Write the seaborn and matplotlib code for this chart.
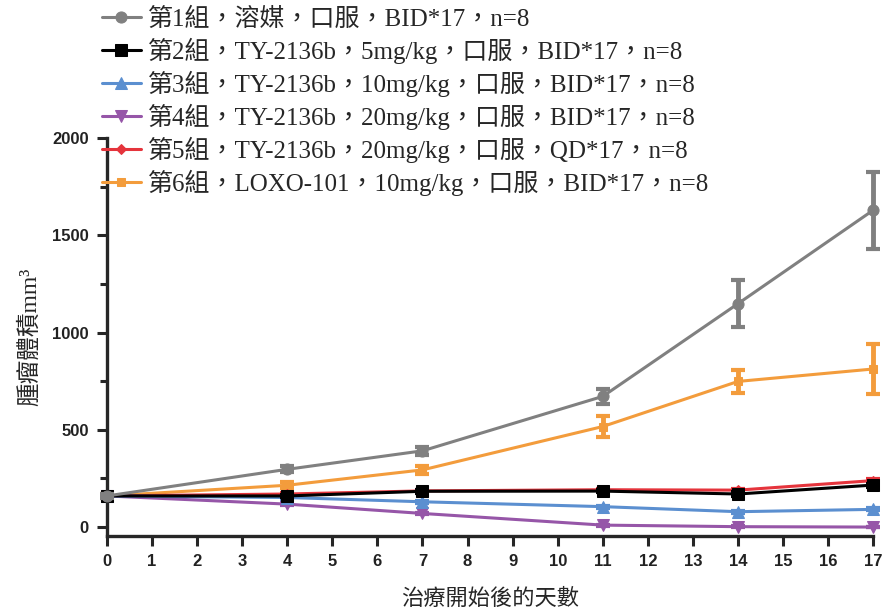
import numpy as np
import pandas as pd
import seaborn as sns
import matplotlib.pyplot as plt
from matplotlib.ticker import MultipleLocator

# Данные: дни и средние объёмы опухоли по группам (± погрешность)
days = [0, 4, 7, 11, 14, 17]

labels = [
    '第1組，溶媒，口服，BID*17，n=8',
    '第2組，TY-2136b，5mg/kg，口服，BID*17，n=8',
    '第3組，TY-2136b，10mg/kg，口服，BID*17，n=8',
    '第4組，TY-2136b，20mg/kg，口服，BID*17，n=8',
    '第5組，TY-2136b，20mg/kg，口服，QD*17，n=8',
    '第6組，LOXO-101，10mg/kg，口服，BID*17，n=8',
]

g1 = [160, 297, 392, 672, 1149, 1630]
g1_err = [8, 15, 20, 40, 122, 198]
g2 = [160, 160, 184, 185, 170, 216]
g2_err = [5, 6, 7, 7, 8, 8]
g3 = [160, 152, 130, 105, 79, 91]
g3_err = [5, 6, 6, 5, 5, 5]
g4 = [160, 118, 70, 10, 2, 0]
g4_err = [5, 5, 4, 2, 1, 1]
g5 = [160, 170, 186, 192, 190, 239]
g5_err = [5, 5, 6, 6, 6, 6]
g6 = [160, 215, 294, 517, 749, 813]
g6_err = [8, 15, 20, 55, 58, 130]

values = [g1, g2, g3, g4, g5, g6]
errors = [g1_err, g2_err, g3_err, g4_err, g5_err, g6_err]
colors = ['#808080', '#000000', '#5b8fd0', '#9656a8', '#e5343c', '#f39c3c']
markers = ['o', 's', '^', 'v', 'D', 's']
msizes = [8, 8, 8, 8, 5, 6]

sns.set_style('ticks')
plt.rcParams['font.family'] = ['Liberation Serif', 'Noto Sans CJK TC']

fig = plt.figure(figsize=(8.83, 6.13), dpi=100)
ax = fig.add_axes([0.121, 0.1256, 0.868, 0.649])

# Рисуем с 6-й группы по 1-ю, чтобы серая линия была сверху
for i in reversed(range(6)):
    df = pd.DataFrame({'day': days, 'vol': values[i]})
    sns.lineplot(data=df, x='day', y='vol', color=colors[i], marker=markers[i],
                 markersize=msizes[i], markeredgecolor=colors[i], linewidth=2.2,
                 ax=ax, label=labels[i], clip_on=False, zorder=3 + (6 - i))
    ax.errorbar(days, values[i], yerr=errors[i], fmt='none', ecolor=colors[i],
                elinewidth=3.5, capsize=5, capthick=3, clip_on=False, zorder=3 + (6 - i))

h, l = ax.get_legend_handles_labels()
order = [l.index(lab) for lab in labels]
ax.legend([h[k] for k in order], [l[k] for k in order], loc='upper left',
          bbox_to_anchor=(0.114, 0.989), bbox_transform=fig.transFigure,
          frameon=False, fontsize=18, handlelength=1.55, handletextpad=0.3,
          labelspacing=0.27, borderpad=0.05, borderaxespad=0)

ax.set_xlim(0, 17)
ax.set_ylim(-46, 2000)
ax.set_xticks(range(0, 18))
ax.yaxis.set_major_locator(MultipleLocator(500))
ax.yaxis.set_minor_locator(MultipleLocator(250))

for s in ['left', 'bottom']:
    ax.spines[s].set_linewidth(2.4)
sns.despine(ax=ax)

ax.tick_params(axis='both', which='major', length=7, width=2.2, labelsize=12, pad=6)
ax.tick_params(axis='y', which='minor', length=5, width=2.2)
for t in ax.get_xticklabels() + ax.get_yticklabels():
    t.set_fontfamily('Liberation Sans')
    t.set_fontweight('bold')
    t.set_color('#222222')

ax.set_xlabel('治療開始後的天數', fontsize=16, labelpad=14)
ax.set_ylabel('腫瘤體積mm³', fontsize=17, labelpad=8)

fig.savefig('out.png', dpi=100)
